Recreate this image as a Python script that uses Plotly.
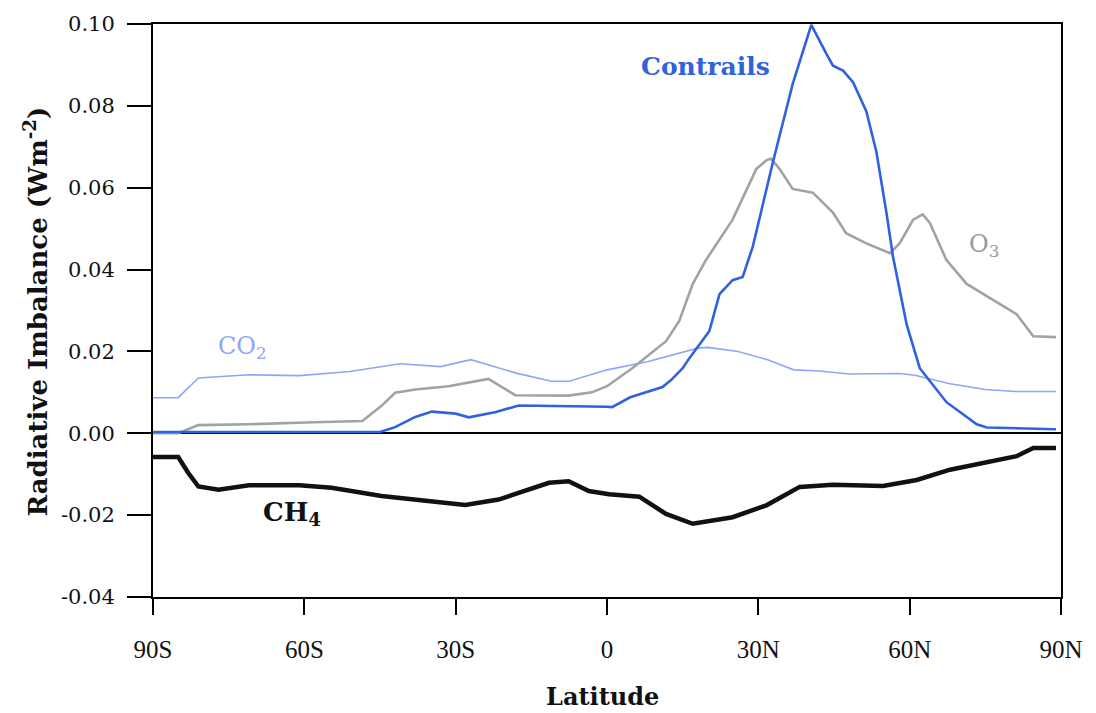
import plotly.graph_objects as go

# ---- data ----
co2_lat = [-90, -85, -81, -71, -61, -51, -41, -33, -27, -18, -11, -7.5, 0, 8, 18, 20, 26, 32, 37, 42, 48, 58, 61, 68, 75, 81, 89]
co2_val = [0.0087, 0.0087, 0.0135, 0.0143, 0.0141, 0.0151, 0.0170, 0.0163, 0.0180, 0.0147, 0.0127, 0.0127,
           0.0155, 0.0175, 0.0208, 0.0210, 0.0200, 0.0179, 0.0155, 0.0152, 0.0145, 0.0146, 0.0142, 0.0121,
           0.0107, 0.0102, 0.0102]

o3_lat = [-90, -85, -81, -71, -58, -48.5, -44.7, -42, -38, -31.4, -23.5, -18.2, -7.6, -3, 0, 5, 11.7, 14.3, 17,
          19.6, 24.9, 29.6, 31.6, 32.5, 34.2, 36.8, 40.8, 44.8, 47.4, 51.4, 56.1, 58, 60.7, 62.6, 64, 67.3,
          71.3, 77.9, 81.2, 84.5, 89]
o3_val = [0.0, 0.0, 0.0020, 0.0022, 0.0027, 0.0030, 0.0067, 0.0099, 0.0107, 0.0115, 0.0133, 0.0093, 0.0092,
          0.0100, 0.0115, 0.0159, 0.0225, 0.0274, 0.0365, 0.0423, 0.0522, 0.0646, 0.0667, 0.0671, 0.0646,
          0.0597, 0.0588, 0.0539, 0.0489, 0.0464, 0.0440, 0.0464, 0.0522, 0.0535, 0.0514, 0.0423, 0.0365,
          0.0316, 0.0291, 0.0237, 0.0235]

con_lat = [-90, -45, -42, -38, -34.7, -30, -27.4, -22, -17.5, -5, 0, 1, 4.6, 11, 12.7, 15, 16.3, 20.3, 22.3,
           24.9, 26.9, 28.9, 32.9, 36.8, 40.5, 43.5, 44.8, 46.8, 48.8, 51.4, 53.4, 55.4, 56.7, 59.4, 62, 67.3,
           73.3, 75.3, 89]
con_val = [0.0003, 0.0003, 0.0015, 0.0040, 0.0053, 0.0048, 0.0039, 0.0052, 0.0068, 0.0067, 0.0065, 0.0064,
           0.0088, 0.0113, 0.0130, 0.0159, 0.0183, 0.0250, 0.0340, 0.0374, 0.0382, 0.0456, 0.0663, 0.0853,
           0.0998, 0.0927, 0.0898, 0.0886, 0.0857, 0.0787, 0.0688, 0.0539, 0.0431, 0.0266, 0.0159, 0.0076,
           0.0022, 0.0014, 0.0010]

ch4_lat = [-90, -85, -83, -81, -77, -71, -61, -54.6, -44.7, -34.7, -28.1, -21.5, -14.8, -11.5, -7.6, -3.6, 0.4,
           6.4, 11.7, 17, 24.9, 31.6, 38.2, 44.8, 54.7, 61.4, 68, 74.6, 81.2, 84.5, 89]
ch4_val = [-0.0058, -0.0058, -0.0097, -0.0130, -0.0138, -0.0127, -0.0127, -0.0133, -0.0153, -0.0167, -0.0175,
           -0.0162, -0.0133, -0.0121, -0.0117, -0.0141, -0.0149, -0.0155, -0.0197, -0.0221, -0.0205, -0.0176,
           -0.0131, -0.0126, -0.0129, -0.0114, -0.0089, -0.0073, -0.0056, -0.0036, -0.0036]

x_ticks = [-90, -60, -30, 0, 30, 60, 90]
x_labels = ["90S", "60S", "30S", "0", "30N", "60N", "90N"]
y_ticks = [-0.04, -0.02, 0.0, 0.02, 0.04, 0.06, 0.08, 0.10]
y_labels = ["-0.04", "-0.02", "0.00", "0.02", "0.04", "0.06", "0.08", "0.10"]

C_CO2 = "#8ea6f7"
C_CON = "#2f62dc"
C_O3 = "#a2a2a2"
C_CH4 = "#111111"

fig = go.Figure()
fig.add_trace(go.Scatter(x=co2_lat, y=co2_val, mode="lines", line=dict(color=C_CO2, width=1.6), name="CO2"))
fig.add_trace(go.Scatter(x=o3_lat, y=o3_val, mode="lines", line=dict(color=C_O3, width=2.6), name="O3"))
fig.add_trace(go.Scatter(x=con_lat, y=con_val, mode="lines", line=dict(color=C_CON, width=2.6), name="Contrails"))
fig.add_trace(go.Scatter(x=ch4_lat, y=ch4_val, mode="lines", line=dict(color=C_CH4, width=4.5), name="CH4"))

fig.update_layout(
    width=1096, height=713,
    margin=dict(l=153, r=35, t=17, b=116),
    paper_bgcolor="white", plot_bgcolor="white",
    showlegend=False,
    xaxis=dict(range=[-90, 90], tickvals=x_ticks, ticktext=x_labels,
               showgrid=False, zeroline=False, showline=True, mirror=True,
               linecolor="black", linewidth=2, ticks="outside", ticklen=16, tickwidth=2,
               tickcolor="black", ticklabelstandoff=13,
               tickfont=dict(family="Liberation Serif", size=25, color="#111111")),
    yaxis=dict(range=[-0.04, 0.10], tickvals=y_ticks, ticktext=y_labels,
               showgrid=False, zeroline=True, zerolinecolor="black", zerolinewidth=2,
               showline=True, mirror=True, linecolor="black", linewidth=2,
               ticks="outside", ticklen=24, tickwidth=2, tickcolor="black", ticklabelstandoff=8,
               tickfont=dict(family="DejaVu Serif", size=21, color="#111111")),
    annotations=[
        dict(text="Radiative Imbalance (Wm<sup>-2</sup>)", xref="paper", yref="paper",
             x=-0.129, y=0.498, xanchor="center", yanchor="middle", textangle=-90, showarrow=False,
             font=dict(family="DejaVu Serif", size=26, color="#111111", weight="bold")),
        dict(text="Latitude", xref="paper", yref="paper", x=0.4945, y=-0.174,
             xanchor="center", yanchor="middle", showarrow=False,
             font=dict(family="DejaVu Serif", size=24, color="#111111", weight="bold")),
        dict(text="Contrails", x=19.5, y=0.0895, showarrow=False,
             font=dict(family="DejaVu Serif", size=25, color=C_CON, weight="bold")),
        dict(text="CO<sub>2</sub>", x=-72.2, y=0.0210, showarrow=False,
             font=dict(family="DejaVu Serif", size=24, color=C_CO2)),
        dict(text="O<sub>3</sub>", x=74.8, y=0.0458, showarrow=False,
             font=dict(family="DejaVu Serif", size=24, color="#999999")),
        dict(text="CH<sub>4</sub>", x=-62.4, y=-0.0196, showarrow=False,
             font=dict(family="DejaVu Serif", size=26, color=C_CH4, weight="bold")),
    ],
)

fig.write_html("out.html")
